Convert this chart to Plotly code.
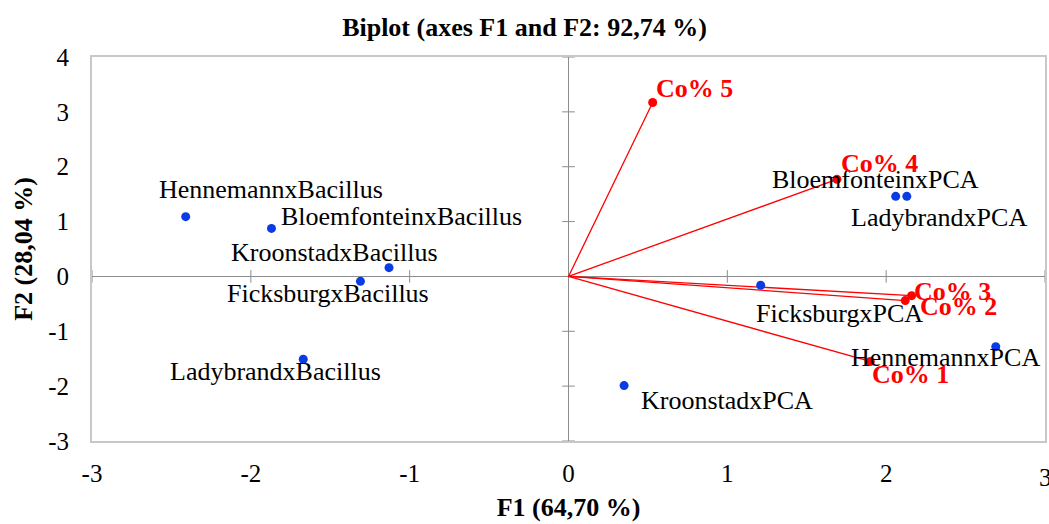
import plotly.graph_objects as go

# Observations (blue)
obs_names = ["HennemannxBacillus", "BloemfonteinxBacillus", "KroonstadxBacillus",
             "FicksburgxBacillus", "LadybrandxBacillus", "BloemfonteinxPCA",
             "LadybrandxPCA", "FicksburgxPCA", "HennemannxPCA", "KroonstadxPCA"]
obs_f1 = [-2.41, -1.87, -1.13, -1.31, -1.67, 2.06, 2.13, 1.21, 2.69, 0.35]
obs_f2 = [1.09, 0.875, 0.16, -0.09, -1.51, 1.46, 1.46, -0.16, -1.28, -1.99]

# Variables (red vectors)
var_names = ["Co% 5", "Co% 4", "Co% 3", "Co% 2", "Co% 1"]
var_f1 = [0.53, 1.69, 2.16, 2.12, 1.90]
var_f2 = [3.17, 1.77, -0.35, -0.44, -1.55]

x_ticks = [-3, -2, -1, 0, 1, 2, 3]
y_ticks = [-3, -2, -1, 0, 1, 2, 3, 4]

# label pixel offsets (style only)
obs_shift = [(85, 27), (130, 12), (-55, 15), (-32, -12), (-28, -12),
             (-20, 17), (32, -21), (79, -28), (-50, -11), (103, -15)]
var_shift = [(42, 14), (43, 16), (41, 4), (53, -6), (40, -13)]

FONT = "Liberation Serif, Times New Roman, serif"
RED = "#FF0000"
BLUE = "#0A3CE6"
AXIS = "#8C8C8C"

fig = go.Figure()

# tick marks along the zero axes
fig.add_trace(go.Scatter(x=[0] * len(y_ticks), y=y_ticks, mode="markers",
                         marker=dict(symbol="line-ew", size=9, line=dict(color=AXIS, width=1)),
                         hoverinfo="skip", showlegend=False))
fig.add_trace(go.Scatter(x=x_ticks, y=[0] * len(x_ticks), mode="markers",
                         marker=dict(symbol="line-ns", size=9, line=dict(color=AXIS, width=1)),
                         hoverinfo="skip", showlegend=False))

# vectors
lx, ly = [], []
for a, b in zip(var_f1, var_f2):
    lx += [0, a, None]
    ly += [0, b, None]
fig.add_trace(go.Scatter(x=lx, y=ly, mode="lines", line=dict(color=RED, width=1.3),
                         hoverinfo="skip", showlegend=False))
fig.add_trace(go.Scatter(x=var_f1, y=var_f2, mode="markers",
                         marker=dict(color=RED, size=9), showlegend=False))
fig.add_trace(go.Scatter(x=obs_f1, y=obs_f2, mode="markers",
                         marker=dict(color=BLUE, size=9), showlegend=False))

for n, x, y, (dx, dy) in zip(obs_names, obs_f1, obs_f2, obs_shift):
    fig.add_annotation(x=x, y=y, text=n, showarrow=False, xshift=dx, yshift=dy,
                       font=dict(family=FONT, size=26, color="black"))
for n, x, y, (dx, dy) in zip(var_names, var_f1, var_f2, var_shift):
    fig.add_annotation(x=x, y=y, text="<b>" + n + "</b>", showarrow=False, xshift=dx, yshift=dy,
                       font=dict(family=FONT, size=26, color=RED))

# last x tick label (partly cut by the page edge, as in the reference)
fig.add_annotation(x=x_ticks[-1], y=0, yref="paper", yanchor="middle", yshift=-36,
                   text=str(x_ticks[-1]), showarrow=False,
                   font=dict(family=FONT, size=25, color="black"))

fig.update_layout(
    width=1049, height=524,
    margin=dict(l=92, r=2, t=57, b=83),
    paper_bgcolor="white", plot_bgcolor="white",
    font=dict(family=FONT, size=25, color="black"),
    title=dict(text="<b>Biplot (axes F1 and F2: 92,74 %)</b>", x=0.5, xref="container",
               y=0.948, yanchor="middle", font=dict(family=FONT, size=26, color="black")),
    xaxis=dict(range=[-3, 3], tickvals=x_ticks[:-1], ticktext=[str(v) for v in x_ticks[:-1]],
               showgrid=False, zeroline=True, zerolinecolor=AXIS, zerolinewidth=1,
               showline=True, mirror=True, linecolor="#C8C8C8", linewidth=2,
               ticks="", ticklabelstandoff=9,
               title=dict(text="<b>F1 (64,70 %)</b>", font=dict(family=FONT, size=26), standoff=12)),
    yaxis=dict(range=[-3, 4], tickvals=y_ticks, ticktext=[str(v) for v in y_ticks],
               showgrid=False, zeroline=True, zerolinecolor=AXIS, zerolinewidth=1,
               showline=True, mirror=True, linecolor="#C8C8C8", linewidth=2,
               ticks="", ticklabelstandoff=16,
               title=dict(text="<b>F2 (28,04 %)</b>", font=dict(family=FONT, size=26), standoff=8)),
)

fig.write_html("out.html")
